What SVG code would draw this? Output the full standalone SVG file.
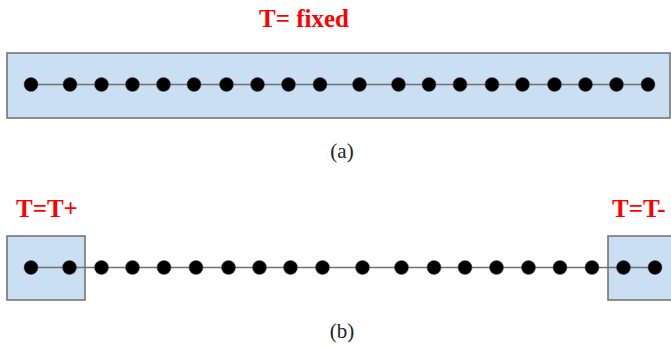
<svg xmlns="http://www.w3.org/2000/svg" width="671" height="347" viewBox="0 0 671 347">
<style>
.box{fill:#cadff3;stroke:#6e6e6e;stroke-width:1.5}
.wire{stroke:#707070;stroke-width:1.5;fill:none}
.dot{fill:#000;stroke:#555;stroke-width:0.5}
.lbl{font-family:"Liberation Serif",serif;font-weight:bold;font-size:25px;fill:#ff0000}
.cap{font-family:"Liberation Serif",serif;font-size:21px;fill:#222;text-anchor:middle}
</style>
<g id="panel-a">
<rect class="box" x="7" y="53" width="663" height="65"/>
<text class="lbl" x="259" y="27">T= fixed</text>
</g>
<g id="panel-b-left">
<rect class="box" x="7" y="236" width="78" height="64"/>
<text class="lbl" x="16" y="217">T=T+</text>
</g>
<g id="panel-b-right">
<rect class="box" x="608" y="236" width="64" height="64"/>
<text class="lbl" x="612" y="217">T=T-</text>
</g>
<g id="connectors">
<line class="wire" x1="31" y1="84.5" x2="648" y2="84.5"/>
<line class="wire" x1="31" y1="267.5" x2="655" y2="267.5"/>
</g>
<g id="dots-a">
<circle class="dot" cx="31" cy="84.5" r="7"/>
<circle class="dot" cx="70" cy="84.5" r="7"/>
<circle class="dot" cx="101.5" cy="84.5" r="7"/>
<circle class="dot" cx="132.5" cy="84.5" r="7"/>
<circle class="dot" cx="163.5" cy="84.5" r="7"/>
<circle class="dot" cx="194" cy="84.5" r="7"/>
<circle class="dot" cx="226.5" cy="84.5" r="7"/>
<circle class="dot" cx="257.5" cy="84.5" r="7"/>
<circle class="dot" cx="288.5" cy="84.5" r="7"/>
<circle class="dot" cx="320" cy="84.5" r="7"/>
<circle class="dot" cx="359.5" cy="84.5" r="7"/>
<circle class="dot" cx="398.5" cy="84.5" r="7"/>
<circle class="dot" cx="429" cy="84.5" r="7"/>
<circle class="dot" cx="460" cy="84.5" r="7"/>
<circle class="dot" cx="492" cy="84.5" r="7"/>
<circle class="dot" cx="522.5" cy="84.5" r="7"/>
<circle class="dot" cx="554.5" cy="84.5" r="7"/>
<circle class="dot" cx="585.5" cy="84.5" r="7"/>
<circle class="dot" cx="616.5" cy="84.5" r="7"/>
<circle class="dot" cx="648" cy="84.5" r="7"/>
</g>
<g id="dots-b">
<circle class="dot" cx="31" cy="267.5" r="7"/>
<circle class="dot" cx="69.5" cy="267.5" r="7"/>
<circle class="dot" cx="101.5" cy="267.5" r="7"/>
<circle class="dot" cx="132.5" cy="267.5" r="7"/>
<circle class="dot" cx="164" cy="267.5" r="7"/>
<circle class="dot" cx="196" cy="267.5" r="7"/>
<circle class="dot" cx="228.5" cy="267.5" r="7"/>
<circle class="dot" cx="259.5" cy="267.5" r="7"/>
<circle class="dot" cx="290.5" cy="267.5" r="7"/>
<circle class="dot" cx="322.5" cy="267.5" r="7"/>
<circle class="dot" cx="362.5" cy="267.5" r="7"/>
<circle class="dot" cx="401.5" cy="267.5" r="7"/>
<circle class="dot" cx="434" cy="267.5" r="7"/>
<circle class="dot" cx="465" cy="267.5" r="7"/>
<circle class="dot" cx="496.5" cy="267.5" r="7"/>
<circle class="dot" cx="528.5" cy="267.5" r="7"/>
<circle class="dot" cx="560" cy="267.5" r="7"/>
<circle class="dot" cx="592" cy="267.5" r="7"/>
<circle class="dot" cx="623.5" cy="267.5" r="7"/>
<circle class="dot" cx="655" cy="267.5" r="7"/>
</g>
<text class="cap" x="342" y="158">(a)</text>
<text class="cap" x="342" y="338">(b)</text>
</svg>
